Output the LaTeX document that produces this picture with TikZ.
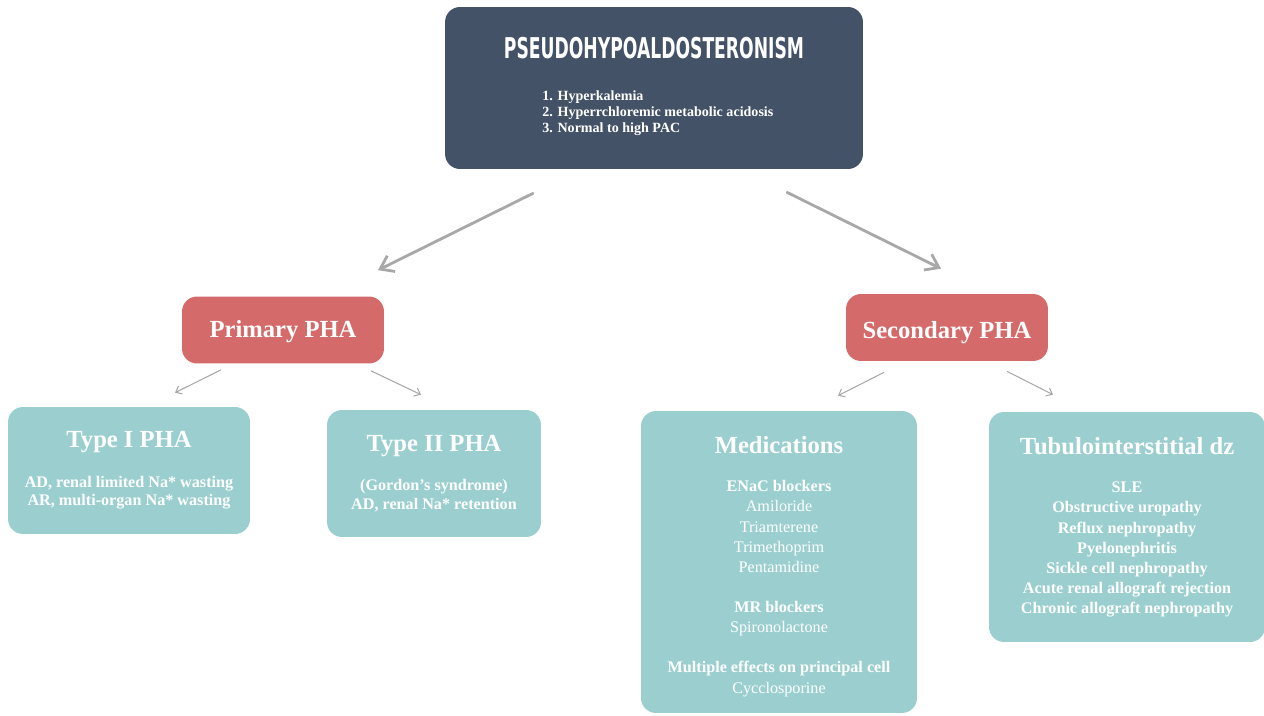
\documentclass[tikz,border=0pt]{standalone}
\usepackage{fontspec}
\setmainfont{Liberation Serif}
\newfontfamily\condfont{DejaVu Sans}[FakeStretch=0.6]
\usepackage{xcolor}
\usetikzlibrary{arrows.meta,calc,positioning}

\definecolor{slateblue}{HTML}{435266}
\definecolor{rosered}{HTML}{D46A6A}
\definecolor{seafoam}{HTML}{9BCFCF}
\definecolor{arrowgray}{HTML}{A8A8A8}

\newcommand{\headsize}{\fontsize{14}{16}\selectfont\bfseries}
\newcommand{\drug}[1]{{\mdseries #1}}

\tikzset{
  box/.style={rounded corners=0.3cm, inner sep=0pt, text=white, align=center},
  phabox/.style={box, fill=slateblue},
  redbox/.style={box, fill=rosered, font=\headsize, minimum width=4.04cm, minimum height=1.34cm},
  tealbox/.style={box, fill=seafoam},
  bigarrow/.style={draw=arrowgray, line width=1.6pt, line cap=round, -{Straight Barb[length=7pt,width=10pt]}},
  smallarrow/.style={draw=arrowgray, line width=0.6pt, -{Straight Barb[length=3pt,width=5pt]}},
}

\begin{document}
\begin{tikzpicture}[x=0.02cm, y=-0.02cm]
  \useasboundingbox (0,0) rectangle (1264,716);
  % top box
  \node[phabox, minimum width=8.36cm, minimum height=3.24cm] (pha) at (654,88) {};
  \node[anchor=base, text=white, font={\condfont\bfseries\fontsize{16.3}{18}\selectfont}] (phaTitle) at (654,59) {PSEUDOHYPOALDOSTERONISM};
  \node[anchor=north west, align=left, inner sep=0pt, text=white, font={\fontsize{8}{9.35}\selectfont\bfseries}] (phaList) at (542,90)
    {1. Hyperkalemia\\2. Hyperrchloremic metabolic acidosis\\3. Normal to high PAC};
  % primary / secondary
  \node[redbox, text height=10pt, text depth=2pt] (prim) at (283,330) {Primary PHA};
  \node[redbox, text height=13pt, text depth=0pt] (sec) at (947,327.5) {Secondary PHA};
  % subtypes
  \node[tealbox, minimum width=4.84cm, minimum height=2.54cm, font={\fontsize{9.2}{10.2}\selectfont\bfseries}] (type1) at (129,470.5)
    {{\headsize Type I PHA}\\[12.5pt]AD, renal limited Na* wasting\\AR, multi-organ Na* wasting};
  \node[tealbox, minimum width=4.28cm, minimum height=2.54cm, font={\fontsize{9.2}{10.8}\selectfont\bfseries}] (type2) at (434,473.5)
    {{\headsize Type II PHA}\\[11.3pt](Gordon’s syndrome)\\AD, renal Na* retention};
  \node[tealbox, minimum width=5.52cm, minimum height=6.04cm, font={\fontsize{9.2}{11.45}\selectfont\bfseries}] (med) at (779,562)
    {{\headsize\rule{0pt}{15pt}Medications}\\[10.2pt]ENaC blockers\\\drug{Amiloride}\\\drug{Triamterene}\\\drug{Trimethoprim}\\\drug{Pentamidine}\\[11.45pt]
     MR blockers\\\drug{Spironolactone}\\[11.45pt]Multiple effects on principal cell\\\drug{Cycclosporine}};
  \node[tealbox, minimum width=5.52cm, minimum height=4.6cm, font={\fontsize{9.2}{11.45}\selectfont\bfseries}] (tub) at (1127,527)
    {{\headsize Tubulointerstitial dz}\\[10.6pt]SLE\\Obstructive uropathy\\Reflux nephropathy\\Pyelonephritis\\Sickle cell nephropathy\\Acute renal allograft rejection\\Chronic allograft nephropathy};
  % arrows
  \draw[bigarrow] ($(pha.south)+(-121,24)$) -- ($(prim.north)+(95,-26)$);
  \draw[bigarrow] ($(pha.south)+(133,23)$) -- ($(sec.north)+(-6,-25)$);
  \draw[smallarrow] ($(prim.south)+(-62,6)$) -- ($(type1.north)+(46,-14)$);
  \draw[smallarrow] ($(prim.south)+(88,7)$) -- ($(type2.north)+(-13,-15)$);
  \draw[smallarrow] ($(sec.south)+(-63,11)$) -- ($(med.north)+(59,-15)$);
  \draw[smallarrow] ($(sec.south)+(60,10)$) -- ($(tub.north)+(-74,-17)$);
\end{tikzpicture}
\end{document}
